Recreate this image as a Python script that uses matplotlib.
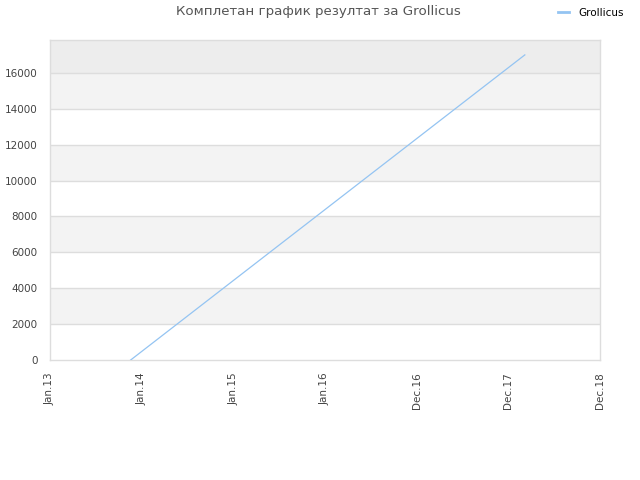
import matplotlib
matplotlib.use('Agg')
import matplotlib.pyplot as plt

title = 'Комплетан график резултат за Grollicus'
series_name = 'Grollicus'
x_labels = ['Jan.13', 'Jan.14', 'Jan.15', 'Jan.16', 'Dec.16', 'Dec.17', 'Dec.18']
# positions along the evenly spaced label axis
line_x = [0.88, 5.18]
line_y = [0, 17000]
y_ticks = [0, 2000, 4000, 6000, 8000, 10000, 12000, 14000, 16000]
y_max = 17830


def main():
   fig = plt.figure(figsize=(6.4, 4.8), dpi=100)
   ax = fig.add_axes([50/640, 120/480, 550/640, 320/480])

   # alternating bands
   for i in range(len(y_ticks) - 1):
      if i % 2 == 1:
         ax.axhspan(y_ticks[i], y_ticks[i+1], color='#f3f3f3', lw=0, zorder=0)
   ax.axhspan(y_ticks[-1], y_max, color='#ededed', lw=0, zorder=0)
   for y in y_ticks[1:]:
      ax.axhline(y, color='#dddddd', lw=1, zorder=1)

   ax.plot(line_x, line_y, color='#94c4f2', lw=0.9, zorder=3, label=series_name)

   ax.set_xlim(0, len(x_labels) - 1)
   ax.set_ylim(0, y_max)
   ax.set_xticks(range(len(x_labels)))
   ax.set_xticklabels(x_labels, rotation=90, fontsize=7.5, color='#444444')
   ax.set_yticks(y_ticks)
   ax.set_yticklabels([str(v) for v in y_ticks], fontsize=7.5, color='#444444')
   ax.tick_params(axis='both', length=0)
   ax.tick_params(axis='y', pad=9)
   ax.tick_params(axis='x', pad=9)
   for s in ax.spines.values():
      s.set_color('#dddddd')
      s.set_linewidth(1)

   fig.text(318/640, 1 - 12/480, title, ha='center', va='center',
            fontsize=9.6, color='#555555')
   leg = fig.legend(loc='center left', bbox_to_anchor=(558/640, 1 - 13/480),
                    frameon=False, fontsize=7.5, handlelength=1.05,
                    handletextpad=0.95, borderaxespad=0, borderpad=0)
   leg.get_lines()[0].set_linewidth(2)

   fig.savefig('out.png', dpi=100)


if __name__ == '__main__':
   main()
